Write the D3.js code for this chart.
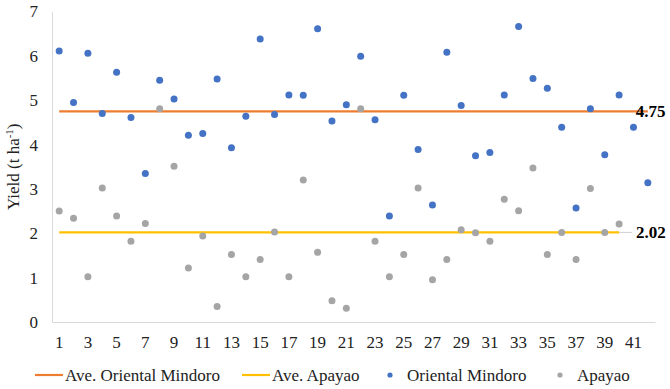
<!doctype html>
<meta charset="utf-8">
<script src="https://d3js.org/d3.v7.min.js"></script>
<body style="margin:0;background:#fff">
<script>

// chart data
var mindoro = [6.11, 4.95, 6.06, 4.70, 5.63, 4.61, 3.35, 5.45, 5.03, 4.21,
               4.25, 5.48, 3.93, 4.64, 6.38, 4.68, 5.12, 5.11, 6.61, 4.53,
               4.90, 5.99, 4.56, 2.39, 5.11, 3.89, 2.64, 6.08, 4.88, 3.75,
               3.82, 5.12, 6.66, 5.49, 5.27, 4.39, 2.57, 4.81, 3.77, 5.12,
               4.39, 3.14];
var apayao = [2.50, 2.34, 1.02, 3.02, 2.39, 1.82, 2.22, 4.81, 3.51, 1.22,
              1.94, 0.35, 1.52, 1.02, 1.41, 2.03, 1.02, 3.20, 1.57, 0.48,
              0.31, 4.81, 1.82, 1.02, 1.52, 3.02, 0.95, 1.41, 2.08, 2.01,
              1.82, 2.77, 2.51, 3.47, 1.52, 2.02, 1.41, 3.01, 2.02, 2.21];
var aveMindoro = 4.75;
var aveApayao = 2.02;
var categories = d3.range(1, 43);
var yTicks = [0, 1, 2, 3, 4, 5, 6, 7];
var legendLabels = ["Ave. Oriental Mindoro", "Ave. Apayao", "Oriental Mindoro", "Apayao"];

var FONT = "'Liberation Serif', 'Times New Roman', serif";
var FS = "17px";

var margin = {top: 11.5, right: 15, bottom: 67, left: 52},
    width = 670 - margin.left - margin.right,
    height = 389 - margin.top - margin.bottom;

var svg = d3.select("body").append("svg")
    .attr("width", 670)
    .attr("height", 389)
    .style("font-family", FONT);
var g = svg.append("g")
    .attr("transform", "translate(" + margin.left + "," + margin.top + ")");

var x = d3.scaleBand().domain(categories).range([0, width]);
var y = d3.scaleLinear().domain([0, 7]).range([height, 0]);
function cx(i) { return x(i) + x.bandwidth() / 2; }

// axes
var xAxis = g.append("g")
    .attr("transform", "translate(0," + height + ")")
    .call(d3.axisBottom(x).tickSize(0).tickPadding(14)
      .tickValues(categories.filter(function(d) { return d % 2 == 1; })));
xAxis.select(".domain").attr("stroke", "#d9d9d9");
xAxis.selectAll("text").style("font-size", FS).style("font-family", FONT).attr("fill", "#222");

var yAxis = g.append("g")
    .call(d3.axisLeft(y).tickValues(yTicks).tickFormat(d3.format("d")).tickSize(0).tickPadding(14));
yAxis.select(".domain").attr("stroke", "#d9d9d9");
yAxis.selectAll("text").style("font-size", FS).style("font-family", FONT).attr("fill", "#222");

// y title
var yt = svg.append("text")
    .attr("transform", "translate(19," + (margin.top + height / 2) + ") rotate(-90)")
    .attr("text-anchor", "middle")
    .attr("fill", "#222")
    .style("font-family", FONT)
    .style("font-size", FS);
yt.append("tspan").text("Yield (t ha");
yt.append("tspan").attr("baseline-shift", "super").style("font-size", "11px").text("-1");
yt.append("tspan").text(")");

// average lines
g.append("line")
    .attr("x1", cx(1)).attr("x2", cx(42))
    .attr("y1", y(aveMindoro)).attr("y2", y(aveMindoro))
    .attr("stroke", "#ED7D31").attr("stroke-width", 2.2);
g.append("line")
    .attr("x1", cx(1)).attr("x2", cx(apayao.length))
    .attr("y1", y(aveApayao)).attr("y2", y(aveApayao))
    .attr("stroke", "#FFC000").attr("stroke-width", 2.2);
g.append("line")
    .attr("x1", cx(apayao.length)).attr("x2", cx(apayao.length) + 13)
    .attr("y1", y(aveApayao)).attr("y2", y(aveApayao))
    .attr("stroke", "#d0d0d0").attr("stroke-width", 1);

// points
g.selectAll(".om").data(mindoro).enter().append("circle")
    .attr("cx", function(d, i) { return cx(i + 1); })
    .attr("cy", function(d) { return y(d); })
    .attr("r", 3.5).attr("fill", "#4472C4");
g.selectAll(".ap").data(apayao).enter().append("circle")
    .attr("cx", function(d, i) { return cx(i + 1); })
    .attr("cy", function(d) { return y(d); })
    .attr("r", 3.5).attr("fill", "#A5A5A5");

// labels
g.append("text")
    .attr("x", cx(42) - 12).attr("y", y(aveMindoro) + 6)
    .style("font-family", FONT).style("font-size", FS)
    .attr("font-weight", "bold").attr("fill", "#000")
    .text(aveMindoro.toFixed(2));
g.append("text")
    .attr("x", cx(apayao.length) + 17).attr("y", y(aveApayao) + 6)
    .style("font-family", FONT).style("font-size", FS)
    .attr("font-weight", "bold").attr("fill", "#000")
    .text(aveApayao.toFixed(2));

// legend
var ly = 375;
var legend = svg.append("g");
function legText(x0, label) {
  legend.append("text").attr("x", x0).attr("y", ly + 6).attr("fill", "#222")
    .style("font-family", FONT).style("font-size", FS).text(label);
}
function legLine(x0, color, label) {
  legend.append("line").attr("x1", x0).attr("x2", x0 + 28).attr("y1", ly).attr("y2", ly)
    .attr("stroke", color).attr("stroke-width", 2.2);
  legText(x0 + 30, label);
}
function legDot(x0, color, label) {
  legend.append("circle").attr("cx", x0).attr("cy", ly).attr("r", 2.6).attr("fill", color);
  legText(x0 + 17, label);
}
legLine(35, "#ED7D31", legendLabels[0]);
legLine(242, "#FFC000", legendLabels[1]);
legDot(390, "#4472C4", legendLabels[2]);
legDot(560, "#A5A5A5", legendLabels[3]);

</script>
</body>
